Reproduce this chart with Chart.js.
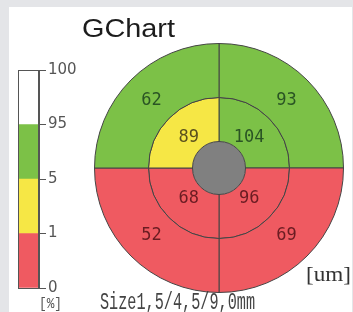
<!DOCTYPE html>
<html>
<head>
<meta charset="utf-8">
<script src="https://cdn.jsdelivr.net/npm/chart.js@4"></script>
<style>
  html, body { margin:0; padding:0; }
  body { width:353px; height:312px; background:#e4e5e8; position:relative; overflow:hidden; }
  #panel { position:absolute; left:9px; top:7px; width:343px; height:305px; background:#ffffff; }
  #legendBox { position:absolute; left:0; top:0; width:100px; height:312px; }
  #mapBox { position:absolute; left:94px; top:43px; width:250px; height:250px; }
</style>
</head>
<body>
<div id="panel"></div>
<div id="legendBox"><canvas id="legendChart"></canvas></div>
<div id="mapBox"><canvas id="mapChart"></canvas></div>
<script>
// ---- data ----
const quadrants = ['Upper right', 'Lower right', 'Lower left', 'Upper left']; // clockwise from 12 o'clock
const sectorSpan = [1, 1, 1, 1];
const outerValues = [93, 69, 52, 62];
const middleValues = [104, 96, 68, 89];
const outerBand = ['green', 'red', 'red', 'green'];
const middleBand = ['green', 'red', 'red', 'yellow'];
const legendBands = ['red', 'yellow', 'green', 'white'];
const legendBandSpan = [1, 1, 1, 1];
const legendTicks = ['0', '1', '5', '95', '100'];

// ---- styles ----
const fill = { green:'#7cc147', yellow:'#f6e745', red:'#ef5a61', white:'#ffffff' };
const ink = { green:'#2a5424', yellow:'#5a501e', red:'#6a1c22', white:'#333' };

// ---- legend bar ----
const outline = {
  id:'outline',
  afterDatasetsDraw(chart){
    const {ctx, chartArea:a} = chart;
    ctx.save();
    ctx.strokeStyle = '#555'; ctx.lineWidth = 1;
    ctx.strokeRect(Math.round(a.left)+0.5, Math.round(a.top)+0.5, Math.round(a.right-a.left)-1, Math.round(a.bottom-a.top));
    ctx.restore();
  }
};
new Chart(document.getElementById('legendChart'), {
  type:'bar',
  data:{
    labels:['%'],
    datasets: legendBands.map((b,i)=>({ label:b, data:[legendBandSpan[i]], backgroundColor:fill[b], borderWidth:0, barPercentage:1, categoryPercentage:1 }))
  },
  options:{
    responsive:true, maintainAspectRatio:false, animation:false,
    layout:{ padding:{ left:18, top:70, bottom:24, right:0 } },
    plugins:{ legend:{display:false}, tooltip:{enabled:false} },
    scales:{
      x:{ stacked:true, display:false },
      y:{ stacked:true, position:'right', min:0, max:legendTicks.length-1,
          afterFit(s){ s.width = 61; },
          ticks:{ stepSize:1, callback:(v)=>legendTicks[v], font:{family:'DejaVu Sans', size:15}, color:'#555', padding:2 },
          grid:{ drawOnChartArea:false, tickLength:7, color:'#555' },
          border:{ display:true, color:'#555' } }
    }
  },
  plugins:[outline]
});

// ---- grid chart ----
const ringValues = [outerValues, middleValues];
const ringBands = [outerBand, middleBand];
const labelRadiusFactor = [0.98, 0.88];
const valueLabels = {
  id:'valueLabels',
  afterDatasetsDraw(chart){
    const ctx = chart.ctx;
    ctx.save();
    ctx.font = '17px "DejaVu Sans Mono"';
    ctx.textAlign = 'center';
    ctx.textBaseline = 'middle';
    ringValues.forEach((vals, i) => {
      chart.getDatasetMeta(i).data.forEach((arc, j) => {
        const p = arc.getProps(['x','y','startAngle','endAngle','innerRadius','outerRadius']);
        const ang = (p.startAngle + p.endAngle)/2;
        const r = (p.innerRadius + p.outerRadius)/2 * labelRadiusFactor[i];
        ctx.fillStyle = ink[ringBands[i][j]];
        ctx.fillText(String(vals[j]), p.x + Math.cos(ang)*r, p.y + Math.sin(ang)*r);
      });
    });
    ctx.restore();
  }
};
new Chart(document.getElementById('mapChart'), {
  type:'doughnut',
  data:{
    labels: quadrants,
    datasets:[
      { data:sectorSpan, weight:54, backgroundColor:outerBand.map(b=>fill[b]), borderColor:'#454545', borderWidth:1 },
      { data:sectorSpan, weight:44, backgroundColor:middleBand.map(b=>fill[b]), borderColor:'#454545', borderWidth:1 },
      { data:[1], weight:26.5, backgroundColor:'#808080', borderWidth:0 }
    ]
  },
  options:{
    responsive:true, maintainAspectRatio:false, animation:false,
    cutout:0, rotation:0,
    plugins:{ legend:{display:false}, tooltip:{enabled:false} }
  },
  plugins:[valueLabels]
});

// ---- text ----
function placeText(txt, font, x, baseline, align, color, targetWidth){
  const d = document.createElement('div');
  d.style.cssText = 'position:absolute;white-space:nowrap;line-height:1;left:0;top:0;font:'+font+';color:'+color+';';
  d.appendChild(document.createTextNode(txt));
  const m = document.createElement('span');
  m.style.cssText = 'display:inline-block;width:0;height:0;vertical-align:baseline;';
  d.appendChild(m);
  document.body.appendChild(d);
  const b = m.offsetTop;
  const w = d.getBoundingClientRect().width;
  const s = targetWidth ? targetWidth / w : 1;
  const vis = w * s;
  let left = x;
  if (align === 'right') left = x - vis;
  else if (align === 'center') left = x - vis/2;
  d.style.top = (baseline - b) + 'px';
  d.style.left = left + 'px';
  d.style.transformOrigin = '0 0';
  d.style.transform = 'scaleX(' + s + ')';
}
placeText('GChart', '25px "Liberation Sans"', 82, 37, 'left', '#1c1c1c', 93);
placeText('[um]', '20px "Liberation Serif"', 351, 281, 'right', '#333', 45);
placeText('Size1,5/4,5/9,0mm', '23px "Liberation Mono"', 100, 309, 'left', '#444', 155);
placeText('[%]', '14px "Liberation Mono"', 50, 308, 'center', '#555', 23);
</script>
</body>
</html>
